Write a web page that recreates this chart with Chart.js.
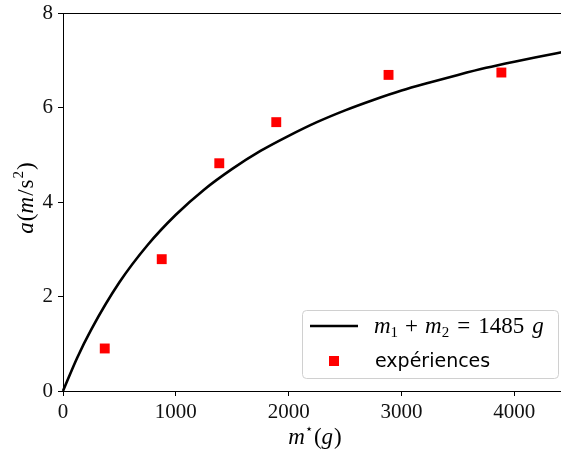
<!DOCTYPE html>
<html>
<head>
<meta charset="utf-8">
<script src="https://cdn.jsdelivr.net/npm/chart.js@4"></script>
<style>
  html, body { margin: 0; padding: 0; background: #fff; overflow: hidden; }
  #wrap { width: 561px; height: 452px; overflow: hidden; position: relative; }
  #wrap div { width: 571px; height: 452px; }
</style>
</head>
<body>
<div id="wrap"><div><canvas id="chart"></canvas></div></div>
<script>
// model curve (g -> m/s^2)
const modelMass = [0, 125, 250, 500, 750, 1000, 1250, 1500, 1750, 2000, 2250, 2500, 2750, 3000, 3250, 3500, 3750, 4000, 4250, 4440];
const modelAccel = [0, 0.70, 1.30, 2.30, 3.09, 3.73, 4.26, 4.70, 5.08, 5.40, 5.69, 5.94, 6.16, 6.36, 6.53, 6.69, 6.84, 6.97, 7.09, 7.18];

// measured points
const expMass = [370, 875, 1385, 1890, 2885, 3885];
const expAccel = [0.90, 2.79, 4.82, 5.69, 6.69, 6.74];

const xTicks = [0, 1000, 2000, 3000, 4000];
const yTicks = [0, 2, 4, 6, 8];

const SERIF = '"Liberation Serif", "DejaVu Serif", serif';
const SANS = '"DejaVu Sans", sans-serif';

// text pieces drawn left to right: italic/upright, sub/superscript, extra gap after
function setFont(ctx, p) {
  ctx.font = `${p.i ? 'italic ' : ''}${p.sz || 21}px ${p.f || SERIF}`;
}

function richWidth(ctx, parts) {
  let w = 0;
  parts.forEach((p) => {
    setFont(ctx, p);
    w += ctx.measureText(p.t).width + (p.gap || 0);
  });
  return w;
}

function drawRich(ctx, parts, x, y) {
  parts.forEach((p) => {
    setFont(ctx, p);
    ctx.fillText(p.t, x, y + (p.dy || 0));
    x += ctx.measureText(p.t).width + (p.gap || 0);
  });
}

const xTitle = [
  { t: 'm', i: true, sz: 23 }, { t: '⋆', sz: 13, dy: -11, gap: 1 }, { t: '(', sz: 23 }, { t: 'g', i: true, sz: 23, gap: 1 }, { t: ')', sz: 23 },
];
const yTitle = [
  { t: 'a', i: true, sz: 23, gap: 1 }, { t: '(', sz: 23 }, { t: 'm', i: true, sz: 23, gap: 1 }, { t: '/', sz: 23, gap: 1 },
  { t: 's', sz: 23, gap: 1 }, { t: '2', sz: 15, dy: -10, gap: 1 }, { t: ')', sz: 23 },
];
const modelLabel = [
  { t: 'm', i: true, sz: 23 }, { t: '1', sz: 15, dy: 4, gap: 7 }, { t: '+', sz: 23, gap: 7 },
  { t: 'm', i: true, sz: 23 }, { t: '2', sz: 15, dy: 4, gap: 8 }, { t: '=', sz: 23, gap: 8 },
  { t: '1485', sz: 23, gap: 8 }, { t: 'g', i: true, sz: 23 },
];

const decorations = {
  id: 'decorations',
  afterDraw(chart) {
    const { ctx, chartArea: a } = chart;
    ctx.save();
    // top spine
    ctx.strokeStyle = '#000';
    ctx.lineWidth = 1;
    ctx.beginPath();
    ctx.moveTo(a.left, a.top + 0.5);
    ctx.lineTo(a.right, a.top + 0.5);
    ctx.stroke();

    ctx.fillStyle = '#000';
    ctx.textBaseline = 'alphabetic';
    // x title
    const xw = richWidth(ctx, xTitle);
    drawRich(ctx, xTitle, 315 - xw / 2, 444);
    // y title, rotated
    const yw = richWidth(ctx, yTitle);
    ctx.save();
    ctx.translate(33, 198);
    ctx.rotate(-Math.PI / 2);
    drawRich(ctx, yTitle, -yw / 2, 0);
    ctx.restore();

    // legend box
    const bx = 302.5, by = 310.5, bw = 256, bh = 68, r = 4;
    ctx.beginPath();
    ctx.roundRect(bx, by, bw, bh, r);
    ctx.fillStyle = 'rgba(255,255,255,0.8)';
    ctx.fill();
    ctx.strokeStyle = '#d0d0d0';
    ctx.stroke();

    ctx.strokeStyle = '#000';
    ctx.lineWidth = 2.6;
    ctx.beginPath();
    ctx.moveTo(310, 326);
    ctx.lineTo(358, 326);
    ctx.stroke();
    ctx.fillStyle = '#ff0000';
    ctx.fillRect(329, 356, 10, 10);

    ctx.fillStyle = '#000';
    drawRich(ctx, modelLabel, 374, 333);
    drawRich(ctx, [{ t: 'expériences', f: SANS, sz: 19 }], 375, 367);
    ctx.restore();
  },
};

new Chart(document.getElementById('chart'), {
  type: 'scatter',
  data: {
    datasets: [
      {
        label: 'm1 + m2 = 1485 g',
        data: modelMass.map((m, i) => ({ x: m, y: modelAccel[i] })),
        showLine: true,
        borderColor: '#000',
        borderWidth: 2.6,
        pointRadius: 0,
        cubicInterpolationMode: 'monotone',
        clip: false,
      },
      {
        label: 'expériences',
        data: expMass.map((m, i) => ({ x: m, y: expAccel[i] })),
        pointStyle: 'rect',
        pointRadius: 7,
        backgroundColor: '#ff0000',
        borderColor: '#ff0000',
        borderWidth: 0,
      },
    ],
  },
  options: {
    responsive: true,
    maintainAspectRatio: false,
    animation: false,
    layout: { padding: { top: 13, right: 1, left: 0, bottom: 0 } },
    plugins: { legend: { display: false }, tooltip: { enabled: false } },
    scales: {
      x: {
        type: 'linear',
        min: 0,
        max: 4440,
        afterBuildTicks: (s) => { s.ticks = xTicks.map((v) => ({ value: v })); },
        afterFit: (s) => { s.height = 61; },
        grid: { drawOnChartArea: false, color: '#000', tickLength: 5, tickWidth: 1 },
        border: { color: '#000', width: 1 },
        ticks: { color: '#111', padding: 4, font: { family: SERIF, size: 21 }, maxRotation: 0, callback: (v) => String(v) },
      },
      y: {
        min: 0,
        max: 8,
        afterBuildTicks: (s) => { s.ticks = yTicks.map((v) => ({ value: v })); },
        afterFit: (s) => { s.width = 63; s.paddingTop = 0; s.paddingBottom = 0; },
        grid: { drawOnChartArea: false, color: '#000', tickLength: 5, tickWidth: 1 },
        border: { color: '#000', width: 1 },
        ticks: { color: '#111', padding: 5, font: { family: SERIF, size: 21 }, callback: (v) => String(v) },
      },
    },
  },
  plugins: [decorations],
});
</script>
</body>
</html>
